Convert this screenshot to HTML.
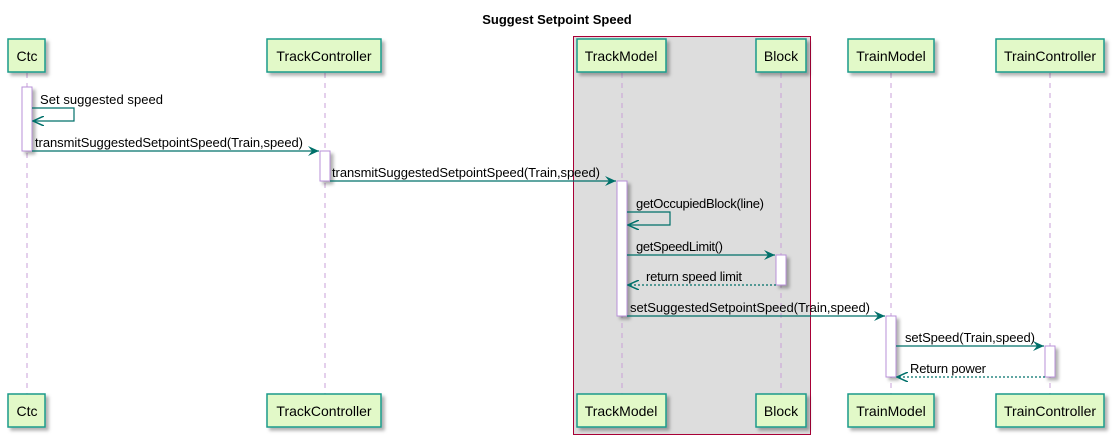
<!DOCTYPE html>
<html><head><meta charset="utf-8"><style>
html,body{margin:0;padding:0;background:#fff;}
svg{display:block;font-family:"Liberation Sans",sans-serif;}
</style></head><body>
<svg width="1114" height="444" viewBox="0 0 1114 444" xmlns="http://www.w3.org/2000/svg">
<defs>
<filter id="sh" x="-20%" y="-20%" width="150%" height="150%"><feDropShadow dx="3" dy="3" stdDeviation="1.5" flood-color="#000" flood-opacity="0.3"/></filter>
<marker id="ah" markerWidth="12" markerHeight="10" refX="11" refY="5" orient="auto" markerUnits="userSpaceOnUse"><path d="M0,0 L11,5 L0,10 L4,5 Z" fill="#00706a"/></marker>
<marker id="ahs" markerWidth="12" markerHeight="10" refX="11" refY="5" orient="auto" markerUnits="userSpaceOnUse"><path d="M0,0 L11,5 L0,10" fill="none" stroke="#00706a" stroke-width="1.5"/></marker>
</defs>
<text x="557" y="24" text-anchor="middle" font-size="13" font-weight="bold">Suggest Setpoint Speed</text>
<rect x="573.5" y="36.5" width="237" height="398" fill="#dddddd" stroke="#A80036" stroke-width="1"/>
<g stroke="#c9a0d8" stroke-dasharray="5,5" stroke-width="1">
<line x1="27" y1="73" x2="27" y2="394"/><line x1="325" y1="73" x2="325" y2="394"/>
<line x1="622" y1="73" x2="622" y2="394"/><line x1="781" y1="73" x2="781" y2="394"/>
<line x1="891" y1="73" x2="891" y2="394"/><line x1="1050" y1="73" x2="1050" y2="394"/>
</g>
<g fill="#e2f9c8" stroke="#1a9a8a" stroke-width="1.5" filter="url(#sh)">
<rect x="8" y="39" width="37" height="33"/><rect x="267" y="39" width="114" height="33"/>
<rect x="577" y="39" width="89" height="33"/><rect x="756" y="39" width="50" height="33"/>
<rect x="848" y="39" width="86" height="33"/><rect x="996" y="39" width="108" height="33"/>
<rect x="8" y="394" width="37" height="33"/><rect x="267" y="394" width="114" height="33"/>
<rect x="577" y="394" width="89" height="33"/><rect x="756" y="394" width="50" height="33"/>
<rect x="848" y="394" width="86" height="33"/><rect x="996" y="394" width="108" height="33"/>
</g>
<g font-size="14" text-anchor="middle" fill="#000">
<text x="27" y="61">Ctc</text><text x="324" y="61">TrackController</text>
<text x="621" y="61">TrackModel</text><text x="781" y="61">Block</text>
<text x="891" y="61">TrainModel</text><text x="1050" y="61">TrainController</text>
<text x="27" y="416">Ctc</text><text x="324" y="416">TrackController</text>
<text x="621" y="416">TrackModel</text><text x="781" y="416">Block</text>
<text x="891" y="416">TrainModel</text><text x="1050" y="416">TrainController</text>
</g>
<g fill="#fff" stroke="#b890d8" stroke-width="1" filter="url(#sh)">
<rect x="22" y="87" width="10" height="64"/><rect x="320" y="151" width="10" height="30"/>
<rect x="617" y="181" width="10" height="135"/><rect x="776" y="255" width="10" height="30"/>
<rect x="886" y="316" width="10" height="61"/><rect x="1045" y="346" width="10" height="31"/>
</g>
<g stroke="#00706a" stroke-width="1.2" fill="none">
<polyline points="32,108 74,108 74,121 33,121" marker-end="url(#ahs)"/>
<line x1="32" y1="151" x2="319" y2="151" marker-end="url(#ah)"/>
<line x1="330" y1="181" x2="616" y2="181" marker-end="url(#ah)"/>
<polyline points="627,212 670,212 670,225 628,225" marker-end="url(#ahs)"/>
<line x1="627" y1="255" x2="775" y2="255" marker-end="url(#ah)"/>
<line x1="776" y1="285" x2="628" y2="285" stroke-dasharray="2,2" marker-end="url(#ahs)"/>
<line x1="627" y1="316" x2="885" y2="316" marker-end="url(#ah)"/>
<line x1="896" y1="346" x2="1044" y2="346" marker-end="url(#ah)"/>
<line x1="1045" y1="377" x2="897" y2="377" stroke-dasharray="2,2" marker-end="url(#ahs)"/>
</g>
<g font-size="13" fill="#000">
<text x="40" y="104" textLength="123">Set suggested speed</text>
<text x="35" y="147" textLength="268">transmitSuggestedSetpointSpeed(Train,speed)</text>
<text x="332" y="177" textLength="268">transmitSuggestedSetpointSpeed(Train,speed)</text>
<text x="636" y="208" textLength="128">getOccupiedBlock(line)</text>
<text x="636" y="251" textLength="87">getSpeedLimit()</text>
<text x="646" y="281" textLength="96">return speed limit</text>
<text x="630" y="312" textLength="240">setSuggestedSetpointSpeed(Train,speed)</text>
<text x="905" y="342" textLength="130">setSpeed(Train,speed)</text>
<text x="910" y="373" textLength="76">Return power</text>
</g>
</svg>
</body></html>
